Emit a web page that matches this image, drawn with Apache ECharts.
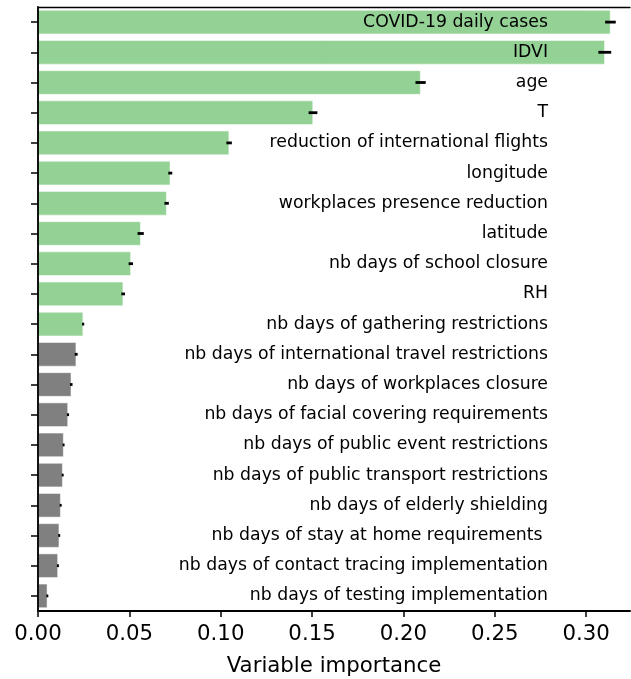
<!doctype html>
<html>
    <head>
        <meta charset="utf-8">
        <title>Variable importance</title>
        <style>
            html, body { margin: 0; padding: 0; background: #fff; }
            #main { width: 631px; height: 679px; }
        </style>
    </head>
    <body>
        <div id="main"></div>
        <script src="https://cdn.jsdelivr.net/npm/echarts@6/dist/echarts.min.js"></script>
        <script>
            var FONT = 'DejaVu Sans';

            var variables = [
                'COVID-19 daily cases', 'IDVI', 'age', 'T',
                'reduction of international flights', 'longitude',
                'workplaces presence reduction', 'latitude',
                'nb days of school closure', 'RH',
                'nb days of gathering restrictions',
                'nb days of international travel restrictions',
                'nb days of workplaces closure',
                'nb days of facial covering requirements',
                'nb days of public event restrictions',
                'nb days of public transport restrictions',
                'nb days of elderly shielding',
                'nb days of stay at home requirements ',
                'nb days of contact tracing implementation',
                'nb days of testing implementation'
            ];
            var importance = [
                0.3133, 0.3102, 0.2094, 0.1505, 0.1046, 0.0724, 0.0704, 0.0562,
                0.0508, 0.0466, 0.0247, 0.0209, 0.0182, 0.0164, 0.0140, 0.0135,
                0.0124, 0.0116, 0.0109, 0.0051
            ];
            var errors = [
                0.0029, 0.0035, 0.0028, 0.0024, 0.0015, 0.0011, 0.0012, 0.0017,
                0.0012, 0.0010, 0.0006, 0.0008, 0.0007, 0.0006, 0.0005, 0.0005,
                0.0005, 0.0005, 0.0005, 0.0005
            ];
            // first 11 variables are highlighted in green
            var nHighlighted = 11;

            var chart = echarts.init(document.getElementById('main'));

            var barData = importance.map(function (v, i) {
                return {
                    value: v,
                    itemStyle: { color: i < nHighlighted ? '#93d194' : '#808080' }
                };
            });
            var errData = importance.map(function (v, i) {
                return [v - errors[i], v + errors[i], i];
            });

            chart.setOption({
                animation: false,
                grid: { left: 38, right: 1, top: 7, bottom: 68, outerBoundsMode: 'none' },
                xAxis: [{
                    type: 'value',
                    min: 0,
                    max: 0.324,
                    interval: 0.05,
                    position: 'bottom',
                    name: 'Variable importance',
                    nameLocation: 'middle',
                    nameGap: 45,
                    nameTextStyle: { fontFamily: FONT, fontSize: 21.3, color: '#000' },
                    axisLine: { show: true, lineStyle: { color: '#000', width: 2 } },
                    axisTick: { show: true, length: 6, lineStyle: { color: '#000', width: 1.5 } },
                    axisLabel: {
                        fontFamily: FONT, fontSize: 21.3, color: '#000', margin: 13,
                        formatter: function (v) { return v.toFixed(2); },
                        showMaxLabel: false
                    },
                    splitLine: { show: false }
                }, {
                    type: 'value',
                    min: 0,
                    max: 0.324,
                    position: 'top',
                    axisLine: { show: true, lineStyle: { color: '#000', width: 1.3 } },
                    axisTick: { show: false },
                    axisLabel: { show: false },
                    splitLine: { show: false }
                }],
                yAxis: [{
                    type: 'category',
                    data: variables,
                    inverse: true,
                    position: 'left',
                    offset: 2,
                    z: 6,
                    axisLine: { show: true, lineStyle: { color: '#111', width: 2 } },
                    axisTick: { show: true, alignWithLabel: true, length: 7, lineStyle: { color: '#000', width: 1.5 } },
                    axisLabel: { show: false },
                    splitLine: { show: false }
                }, {
                    type: 'category',
                    data: variables,
                    inverse: true,
                    position: 'right',
                    z: 10,
                    axisLine: { show: false },
                    axisTick: { show: false },
                    axisLabel: {
                        inside: true,
                        margin: 82,
                        fontFamily: FONT,
                        fontSize: 17.3,
                        color: '#000'
                    },
                    splitLine: { show: false }
                }],
                series: [{
                    type: 'bar',
                    yAxisIndex: 0,
                    barCategoryGap: '20%',
                    itemStyle: { borderColor: '#fff', borderWidth: 0.5 },
                    data: barData,
                    markLine: {
                        silent: true,
                        symbol: 'none',
                        label: { show: false },
                        lineStyle: { color: '#1f77b4', width: 1.8, type: 'solid' },
                        data: [{ xAxis: 0 }]
                    }
                }, {
                    type: 'custom',
                    yAxisIndex: 0,
                    z: 5,
                    renderItem: function (params, api) {
                        var p1 = api.coord([api.value(0), api.value(2)]);
                        var p2 = api.coord([api.value(1), api.value(2)]);
                        if (p2[0] - p1[0] < 2) {
                            var mid = (p1[0] + p2[0]) / 2;
                            p1[0] = mid - 1;
                            p2[0] = mid + 1;
                        }
                        return {
                            type: 'line',
                            shape: { x1: p1[0], y1: p1[1], x2: p2[0], y2: p2[1] },
                            style: { stroke: '#000', lineWidth: 2.8 }
                        };
                    },
                    encode: { x: [0, 1], y: 2 },
                    data: errData
                }]
            });

            window.addEventListener('resize', function () {
                chart.resize();
            });
        </script>
    </body>
</html>
